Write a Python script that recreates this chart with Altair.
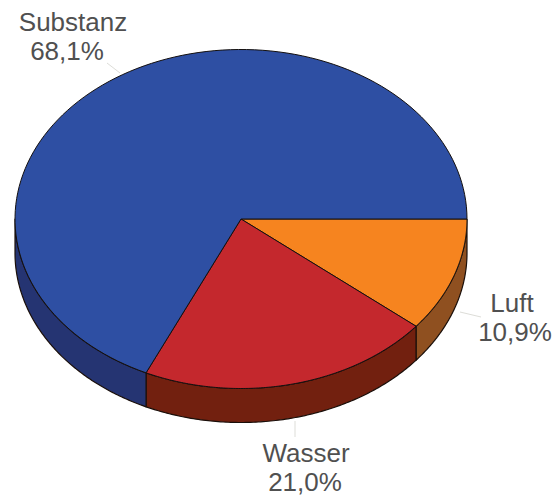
import numpy as np
import pandas as pd
import altair as alt

# Slice data, starting at three o'clock and running clockwise
names = ["Luft", "Wasser", "Substanz"]
shares = [10.9, 21.0, 68.1]
value_labels = ["10,9%", "21,0%", "68,1%"]

top_colors = ["#F6841F", "#C4282D", "#2E4FA3"]
side_colors = ["#8F5020", "#72200F", "#253472"]

# Tilted disc geometry in plot units
CX, CY, RX, RY, DEPTH = 241.0, 219.0, 226.0, 169.5, 34.0

# Label anchors and their thin leader lines
name_x = [512, 306, 73]
name_y = [304, 454, 23]
value_x = [515, 305, 67]
value_y = [333, 483, 52]
leader_x = [[460, 481], [295, 295], [107, 120]]
leader_y = [[312, 317], [421, 437], [63, 73]]


def rim(a0, a1, n=120):
    t = np.radians(np.linspace(a0, a1, n))
    return CX + RX * np.cos(t), CY + RY * np.sin(t)


tops, walls = [], []
start = 0.0
for name, share in zip(names, shares):
    end = start + share * 3.6
    # Top face: centre, rim arc, back to centre
    x, y = rim(start, end)
    xs = np.r_[CX, x, CX]
    ys = np.r_[CY, y, CY]
    tops.append(pd.DataFrame({"piece": name, "i": range(len(xs)), "x": xs, "y": ys}))
    # Side wall: only the part of the rim that faces the viewer
    w0, w1 = start, min(end, 180.0)
    x, y = rim(w0, w1)
    xs = np.r_[x, x[::-1], x[0]]
    ys = np.r_[y, y[::-1] + DEPTH, y[0]]
    walls.append(pd.DataFrame({"piece": name, "i": range(len(xs)), "x": xs, "y": ys}))
    start = end
tops = pd.concat(tops)
walls = pd.concat(walls)

x_scale = alt.Scale(domain=[0, 559], range=[0, 559], nice=False, zero=False)
y_scale = alt.Scale(domain=[0, 496], range=[0, 496], nice=False, zero=False)
X = alt.X("x:Q", scale=x_scale, axis=None)
Y = alt.Y("y:Q", scale=y_scale, axis=None)


def faces(df, colors, stroke, width):
    return (
        alt.Chart(df)
        .mark_line(stroke=stroke, strokeWidth=width, strokeJoin="round", interpolate="linear")
        .encode(
            x=X,
            y=Y,
            order="i:Q",
            detail="piece:N",
            fill=alt.Fill(
                "piece:N",
                scale=alt.Scale(domain=names, range=colors),
                legend=None,
            ),
        )
    )


leaders = pd.concat(
    [
        pd.DataFrame({"piece": n, "x": lx, "y": ly})
        for n, lx, ly in zip(names, leader_x, leader_y)
    ]
)
leader_layer = (
    alt.Chart(leaders)
    .mark_line(stroke="#DDDDD8", strokeWidth=1)
    .encode(x=X, y=Y, detail="piece:N")
)

name_labels = pd.DataFrame({"x": name_x, "y": name_y, "text": names})
value_table = pd.DataFrame({"x": value_x, "y": value_y, "text": value_labels})
font = dict(font="Liberation Sans", fontSize=26, color="#505050", align="center", baseline="middle")
name_layer = alt.Chart(name_labels).mark_text(**font).encode(x=X, y=Y, text="text:N")
value_layer = alt.Chart(value_table).mark_text(**font).encode(x=X, y=Y, text="text:N")

chart = (
    alt.layer(
        leader_layer,
        faces(walls, side_colors, "#1A0F0A", 1.2),
        faces(tops, top_colors, "#14100F", 1.0),
        name_layer,
        value_layer,
    )
    .resolve_scale(fill="independent")
    .properties(width=559, height=496, padding=0, autosize=alt.AutoSizeParams(type="none"))
    .configure_view(stroke=None)
)

chart.save("out.html", embed_options={"renderer": "svg", "actions": False})
